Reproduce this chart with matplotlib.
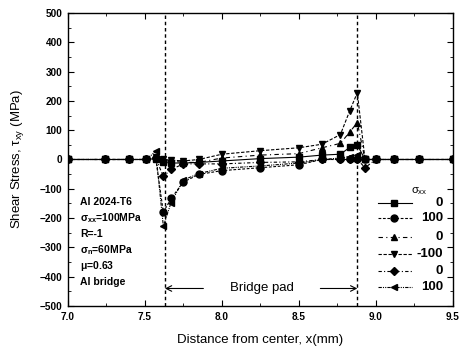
import matplotlib
matplotlib.use("Agg")
import matplotlib.pyplot as plt
from matplotlib.ticker import MultipleLocator

plt.rcParams['font.family'] = ['Liberation Sans', 'DejaVu Sans']
plt.rcParams['mathtext.default'] = 'regular'

# positions along the specimen (mm)
x_mm = [7.0, 7.24, 7.40, 7.51, 7.57, 7.62, 7.67, 7.75, 7.85, 8.0, 8.25,
        8.5, 8.65, 8.77, 8.83, 8.88, 8.93, 9.0, 9.12, 9.28, 9.5]

# shear stress tau_xy (MPa) for each sigma_xx case
tau_sq   = [0, 0, 0, 0, 3, -10, -12, -12, -10, -5, 3, 8, 15, 18, 41, 50, 0, 0, 0, 0, 0]
tau_circ = [0, 0, 0, 0, 5, -180, -133, -77, -51, -38, -28, -18, 0, 0, 0, 0, 0, 0, 0, 0, 0]
tau_up   = [0, 0, 0, 0, 5, -5, -5, -10, -10, 5, 15, 20, 40, 55, 93, 126, 0, 0, 0, 0, 0]
tau_down = [0, 0, 0, 0, 10, 0, -2, -5, 0, 18, 30, 40, 52, 85, 165, 228, 0, 0, 0, 0, 0]
tau_diam = [0, 0, 0, 0, 5, -58, -34, -15, -15, -15, -10, -8, 0, 0, 0, 0, -28, 0, 0, 0, 0]
tau_left = [0, 0, 0, 0, 28, -228, -147, -70, -48, -30, -22, -12, 0, 5, 10, 15, 0, 0, 0, 0, 0]

sigma_labels = ['0', '100', '0', '-100', '0', '100']
pad_edges = [7.63, 8.88]

series = [
    (tau_sq,   's', '-'),
    (tau_circ, 'o', (0, (2.5, 1.5))),
    (tau_up,   '^', (0, (4, 3, 1, 3))),
    (tau_down, 'v', (0, (3, 1.5))),
    (tau_diam, 'D', (0, (3, 2, 1, 2))),
    (tau_left, '<', (0, (3, 1, 1, 1, 1, 1))),
]

fig = plt.figure(figsize=(4.62, 3.49), dpi=100)
ax = fig.add_axes([0.147, 0.123, 0.833, 0.840])

for y, m, ls in series:
    ms = 4.0 if m == 'D' else 5.0
    ax.plot(x_mm, y, color='k', linestyle=ls, linewidth=0.8, marker=m,
            markersize=ms, markerfacecolor='k', markeredgecolor='k')

# bridge pad edges
for xe in pad_edges:
    ax.axvline(xe, color='k', linestyle=(0, (2.5, 2)), linewidth=1.0)

# bridge pad arrows
ax.annotate('', xy=(pad_edges[0], -440), xytext=(7.88, -440),
            arrowprops=dict(arrowstyle='->', color='k', lw=0.8, shrinkA=0, shrinkB=0))
ax.annotate('', xy=(pad_edges[1], -440), xytext=(8.64, -440),
            arrowprops=dict(arrowstyle='->', color='k', lw=0.8, shrinkA=0, shrinkB=0))
ax.text(8.26, -437, 'Bridge pad', ha='center', va='center', fontsize=9.5)

# material / loading notes
notes = ['Al 2024-T6', r'$\sigma_{xx}$=100MPa', 'R=-1',
         r'$\sigma_n$=60MPa', r'$\mu$=0.63', 'Al bridge']
for i, t in enumerate(notes):
    ax.text(0.031, 0.355 - i * 0.0546, t, transform=ax.transAxes,
            fontsize=7.5, fontweight='bold', va='center', ha='left')

# legend drawn by hand so the labels can be right aligned
row_y = [0.352, 0.300, 0.237, 0.179, 0.121, 0.065]
ax.text(0.913, 0.392, r'$\sigma_{xx}$', transform=ax.transAxes,
        fontsize=8, ha='center', va='center')
for (y, m, ls), lab, ry in zip(series, sigma_labels, row_y):
    ms = 4.0 if m == 'D' else 5.0
    ax.plot([0.805, 0.895], [ry, ry], transform=ax.transAxes, color='k',
            linestyle=ls, linewidth=0.8, clip_on=False)
    ax.plot([0.848], [ry], transform=ax.transAxes, color='k', marker=m,
            markersize=ms, linestyle='none', clip_on=False)
    ax.text(0.975, ry, lab, transform=ax.transAxes, fontsize=9.5,
            fontweight='bold', ha='right', va='center')

ax.set_xlim(7.0, 9.5)
ax.set_ylim(-500, 500)
ax.xaxis.set_major_locator(MultipleLocator(0.5))
ax.xaxis.set_minor_locator(MultipleLocator(0.25))
ax.yaxis.set_major_locator(MultipleLocator(100))
ax.yaxis.set_minor_locator(MultipleLocator(50))
ax.set_xticks(ax.get_xticks())
ax.set_xticklabels(['%.1f' % v for v in ax.get_xticks()])
ax.tick_params(which='both', direction='in', top=True, right=True)
ax.tick_params(which='major', length=4, labelsize=7.2, pad=4)
ax.tick_params(which='minor', length=2)
for lbl in ax.get_xticklabels() + ax.get_yticklabels():
    lbl.set_fontweight('bold')
for s in ax.spines.values():
    s.set_linewidth(1.0)
ax.set_xlim(7.0, 9.5)

ax.set_xlabel('Distance from center, x(mm)', fontsize=9.5, labelpad=9)
ax.set_ylabel(r'Shear Stress, $\tau_{xy}$ (MPa)', fontsize=9.5, labelpad=10)

fig.savefig('out.png', dpi=100)
